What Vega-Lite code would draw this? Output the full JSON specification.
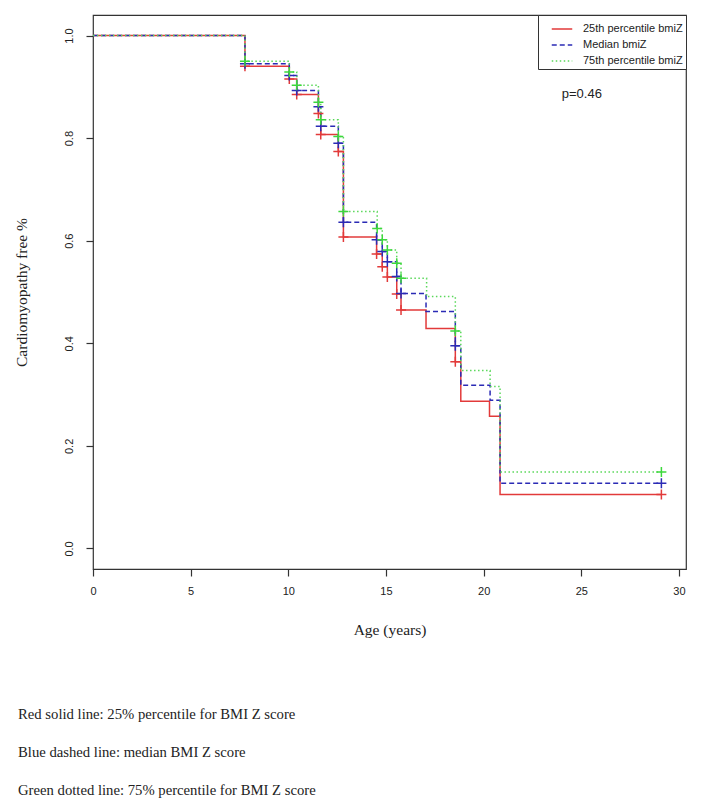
{
  "$schema": "https://vega.github.io/schema/vega-lite/v6.json",
  "width": 593,
  "height": 554,
  "autosize": {"type": "none"},
  "padding": {"left": 93, "top": 15, "right": 18, "bottom": 243},
  "background": "white",
  "title": {
    "text": ["Red solid line: 25% percentile for BMI Z score", "Blue dashed line: median BMI Z score", "Green dotted line: 75% percentile for BMI Z score"],
    "orient": "bottom",
    "anchor": "start",
    "frame": "group",
    "dx": -75,
    "offset": 69,
    "lineHeight": 38,
    "font": "Liberation Serif",
    "fontSize": 14.7,
    "fontWeight": "normal",
    "color": "#222222"
  },
  "config": {
    "view": {"stroke": "#333333", "strokeWidth": 1.2},
    "axis": {"grid": false, "domain": false, "tickColor": "#333333", "tickSize": 7, "tickWidth": 1.2, "labelFont": "Liberation Sans", "labelFontSize": 11, "labelColor": "#222222", "titleFont": "Liberation Serif", "titleFontSize": 15.5, "titleFontWeight": "normal", "titleColor": "#222222"}
  },
  "datasets": {
    "curves": [
      {"group": "25th percentile bmiZ", "t": 0, "s": 1.0},
      {"group": "25th percentile bmiZ", "t": 7.78, "s": 0.94},
      {"group": "25th percentile bmiZ", "t": 10.05, "s": 0.915},
      {"group": "25th percentile bmiZ", "t": 10.43, "s": 0.885},
      {"group": "25th percentile bmiZ", "t": 11.54, "s": 0.848},
      {"group": "25th percentile bmiZ", "t": 11.66, "s": 0.807},
      {"group": "25th percentile bmiZ", "t": 12.56, "s": 0.774},
      {"group": "25th percentile bmiZ", "t": 12.82, "s": 0.607},
      {"group": "25th percentile bmiZ", "t": 14.52, "s": 0.574},
      {"group": "25th percentile bmiZ", "t": 14.81, "s": 0.549},
      {"group": "25th percentile bmiZ", "t": 15.07, "s": 0.529},
      {"group": "25th percentile bmiZ", "t": 15.55, "s": 0.496},
      {"group": "25th percentile bmiZ", "t": 15.77, "s": 0.465},
      {"group": "25th percentile bmiZ", "t": 17.05, "s": 0.429},
      {"group": "25th percentile bmiZ", "t": 18.55, "s": 0.364},
      {"group": "25th percentile bmiZ", "t": 18.83, "s": 0.287},
      {"group": "25th percentile bmiZ", "t": 20.3, "s": 0.258},
      {"group": "25th percentile bmiZ", "t": 20.84, "s": 0.105},
      {"group": "25th percentile bmiZ", "t": 29.1, "s": 0.105},
      {"group": "Median bmiZ", "t": 0, "s": 1.0},
      {"group": "Median bmiZ", "t": 7.78, "s": 0.945},
      {"group": "Median bmiZ", "t": 10.05, "s": 0.922},
      {"group": "Median bmiZ", "t": 10.43, "s": 0.893},
      {"group": "Median bmiZ", "t": 11.54, "s": 0.861},
      {"group": "Median bmiZ", "t": 11.66, "s": 0.823},
      {"group": "Median bmiZ", "t": 12.56, "s": 0.79},
      {"group": "Median bmiZ", "t": 12.82, "s": 0.636},
      {"group": "Median bmiZ", "t": 14.52, "s": 0.602},
      {"group": "Median bmiZ", "t": 14.81, "s": 0.579},
      {"group": "Median bmiZ", "t": 15.07, "s": 0.559},
      {"group": "Median bmiZ", "t": 15.55, "s": 0.53},
      {"group": "Median bmiZ", "t": 15.77, "s": 0.497},
      {"group": "Median bmiZ", "t": 17.05, "s": 0.462},
      {"group": "Median bmiZ", "t": 18.55, "s": 0.395},
      {"group": "Median bmiZ", "t": 18.83, "s": 0.318},
      {"group": "Median bmiZ", "t": 20.33, "s": 0.289},
      {"group": "Median bmiZ", "t": 20.84, "s": 0.127},
      {"group": "Median bmiZ", "t": 29.1, "s": 0.127},
      {"group": "75th percentile bmiZ", "t": 0, "s": 1.0},
      {"group": "75th percentile bmiZ", "t": 7.78, "s": 0.95},
      {"group": "75th percentile bmiZ", "t": 10.05, "s": 0.929},
      {"group": "75th percentile bmiZ", "t": 10.43, "s": 0.903},
      {"group": "75th percentile bmiZ", "t": 11.54, "s": 0.87},
      {"group": "75th percentile bmiZ", "t": 11.66, "s": 0.836},
      {"group": "75th percentile bmiZ", "t": 12.56, "s": 0.803},
      {"group": "75th percentile bmiZ", "t": 12.82, "s": 0.657},
      {"group": "75th percentile bmiZ", "t": 14.55, "s": 0.624},
      {"group": "75th percentile bmiZ", "t": 14.81, "s": 0.602},
      {"group": "75th percentile bmiZ", "t": 15.07, "s": 0.582},
      {"group": "75th percentile bmiZ", "t": 15.55, "s": 0.556},
      {"group": "75th percentile bmiZ", "t": 15.77, "s": 0.527},
      {"group": "75th percentile bmiZ", "t": 17.08, "s": 0.491},
      {"group": "75th percentile bmiZ", "t": 18.55, "s": 0.424},
      {"group": "75th percentile bmiZ", "t": 18.83, "s": 0.347},
      {"group": "75th percentile bmiZ", "t": 20.33, "s": 0.316},
      {"group": "75th percentile bmiZ", "t": 20.84, "s": 0.149},
      {"group": "75th percentile bmiZ", "t": 29.1, "s": 0.149}
    ],
    "censor": [
      {"group": "25th percentile bmiZ", "t": 7.78, "s": 0.94},
      {"group": "25th percentile bmiZ", "t": 10.05, "s": 0.915},
      {"group": "25th percentile bmiZ", "t": 10.43, "s": 0.885},
      {"group": "25th percentile bmiZ", "t": 11.54, "s": 0.848},
      {"group": "25th percentile bmiZ", "t": 11.66, "s": 0.807},
      {"group": "25th percentile bmiZ", "t": 12.56, "s": 0.774},
      {"group": "25th percentile bmiZ", "t": 12.82, "s": 0.607},
      {"group": "25th percentile bmiZ", "t": 14.52, "s": 0.574},
      {"group": "25th percentile bmiZ", "t": 14.81, "s": 0.549},
      {"group": "25th percentile bmiZ", "t": 15.07, "s": 0.529},
      {"group": "25th percentile bmiZ", "t": 15.55, "s": 0.496},
      {"group": "25th percentile bmiZ", "t": 15.77, "s": 0.465},
      {"group": "25th percentile bmiZ", "t": 18.55, "s": 0.364},
      {"group": "25th percentile bmiZ", "t": 29.1, "s": 0.105},
      {"group": "Median bmiZ", "t": 7.78, "s": 0.945},
      {"group": "Median bmiZ", "t": 10.05, "s": 0.922},
      {"group": "Median bmiZ", "t": 10.43, "s": 0.893},
      {"group": "Median bmiZ", "t": 11.54, "s": 0.861},
      {"group": "Median bmiZ", "t": 11.66, "s": 0.823},
      {"group": "Median bmiZ", "t": 12.56, "s": 0.79},
      {"group": "Median bmiZ", "t": 12.82, "s": 0.636},
      {"group": "Median bmiZ", "t": 14.52, "s": 0.602},
      {"group": "Median bmiZ", "t": 14.81, "s": 0.579},
      {"group": "Median bmiZ", "t": 15.07, "s": 0.559},
      {"group": "Median bmiZ", "t": 15.55, "s": 0.53},
      {"group": "Median bmiZ", "t": 15.77, "s": 0.497},
      {"group": "Median bmiZ", "t": 18.55, "s": 0.395},
      {"group": "Median bmiZ", "t": 29.1, "s": 0.127},
      {"group": "75th percentile bmiZ", "t": 7.78, "s": 0.95},
      {"group": "75th percentile bmiZ", "t": 10.05, "s": 0.929},
      {"group": "75th percentile bmiZ", "t": 10.43, "s": 0.903},
      {"group": "75th percentile bmiZ", "t": 11.54, "s": 0.87},
      {"group": "75th percentile bmiZ", "t": 11.66, "s": 0.836},
      {"group": "75th percentile bmiZ", "t": 12.56, "s": 0.803},
      {"group": "75th percentile bmiZ", "t": 12.82, "s": 0.657},
      {"group": "75th percentile bmiZ", "t": 14.55, "s": 0.624},
      {"group": "75th percentile bmiZ", "t": 14.81, "s": 0.602},
      {"group": "75th percentile bmiZ", "t": 15.07, "s": 0.582},
      {"group": "75th percentile bmiZ", "t": 15.55, "s": 0.556},
      {"group": "75th percentile bmiZ", "t": 15.77, "s": 0.527},
      {"group": "75th percentile bmiZ", "t": 18.55, "s": 0.424},
      {"group": "75th percentile bmiZ", "t": 29.1, "s": 0.149}
    ],
    "note": [
      {"t": 24.0, "s": 0.886, "label": "p=0.46"}
    ]
  },
  "layer": [
    {
      "data": {"name": "curves"},
      "mark": {"type": "line", "interpolate": "step-after", "strokeWidth": 1.5},
      "encoding": {
        "x": {"field": "t", "type": "quantitative", "scale": {"domain": [0, 30.36], "nice": false, "zero": false}, "axis": {"values": [0, 5, 10, 15, 20, 25, 30], "title": "Age (years)", "labelPadding": 9, "titlePadding": 26, "labelFlush": false}},
        "y": {"field": "s", "type": "quantitative", "scale": {"domain": [-0.04, 1.04], "nice": false, "zero": false}, "axis": {"values": [0, 0.2, 0.4, 0.6, 0.8, 1.0], "format": ".1f", "title": "Cardiomyopathy free %", "labelAngle": 270, "labelAlign": "center", "labelBaseline": "bottom", "labelPadding": 12, "titlePadding": 34}},
        "color": {"field": "group", "type": "nominal", "sort": null, "scale": {"domain": ["25th percentile bmiZ", "Median bmiZ", "75th percentile bmiZ"], "range": ["#e23a3a", "#2b2bb5", "#5ad85a"]}, "legend": {"title": null, "orient": "top-right", "offset": 0, "padding": 3, "strokeColor": "#333333", "fillColor": "white", "symbolType": "stroke", "symbolSize": 420, "symbolOffset": 10, "symbolStrokeWidth": 1.5, "labelFont": "Liberation Sans", "labelFontSize": 11, "labelColor": "#222222", "rowPadding": -6, "labelOffset": 10}},
        "strokeDash": {"field": "group", "type": "nominal", "sort": null, "scale": {"domain": ["25th percentile bmiZ", "Median bmiZ", "75th percentile bmiZ"], "range": [[1, 0], [5, 3], [1.5, 2.5]]}, "legend": {"title": null}},
        "order": {"field": "t", "type": "quantitative"}
      }
    },
    {
      "data": {"name": "censor"},
      "mark": {"type": "point", "shape": "M-1,0H1M0,-1V1", "filled": false, "strokeWidth": 1.5, "size": 100, "opacity": 1},
      "encoding": {
        "x": {"field": "t", "type": "quantitative"},
        "y": {"field": "s", "type": "quantitative"},
        "stroke": {"field": "group", "type": "nominal", "scale": {"domain": ["25th percentile bmiZ", "Median bmiZ", "75th percentile bmiZ"], "range": ["#e23a3a", "#2b2bb5", "#3cd83c"]}, "legend": null}
      }
    },
    {
      "data": {"name": "note"},
      "mark": {"type": "text", "align": "left", "baseline": "middle", "font": "Liberation Sans", "fontSize": 13, "color": "#222222"},
      "encoding": {
        "x": {"field": "t", "type": "quantitative"},
        "y": {"field": "s", "type": "quantitative"},
        "text": {"field": "label"}
      }
    }
  ]
}
